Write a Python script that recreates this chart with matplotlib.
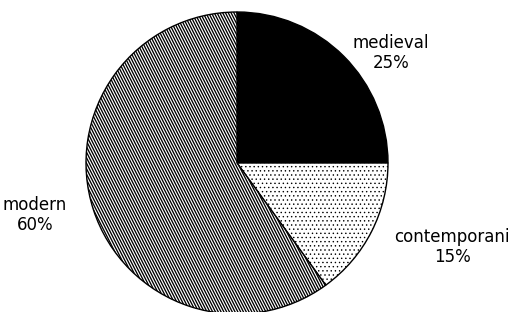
import numpy as np
import matplotlib
matplotlib.use("Agg")
import matplotlib.pyplot as plt
from matplotlib.collections import LineCollection

labels = ["medieval", "contemporani", "modern"]
shares = [25, 15, 60]

W, H = 519, 312
CX, CY, R = 237, 163, 151   # pie centre and radius in pixels


def px(x, y):
    """pixel (from top-left) -> data coords of the axes"""
    return (x - CX) / R, (CY - y) / R


fig = plt.figure(figsize=(W / 100, H / 100), dpi=100)
ax = fig.add_axes([0, 0, 1, 1])

plt.rcParams["hatch.linewidth"] = 0.5
wedges, _ = ax.pie(shares, startangle=90, counterclock=False, radius=1,
                   colors=["black", "white", "white"],
                   wedgeprops=dict(edgecolor="black", linewidth=1.0))
ax.set_xlim(-CX / R, (W - CX) / R)
ax.set_ylim(-(H - CY) / R, CY / R)
ax.set_aspect("equal")
ax.axis("off")

# stipple for contemporani
wedges[1].set_hatch("....")

# steep diagonal lines for modern
step = 2.8 / R
slope = np.tan(np.radians(63))
segs = []
for c in np.arange(-3, 3, step):
    xs = np.array([c - 1.5, c + 1.5])
    segs.append(np.column_stack([xs, -slope * (xs - c)]))
lc = LineCollection(segs, colors="black", linewidths=0.95)
ax.add_collection(lc)
lc.set_clip_path(wedges[2])

txt = dict(ha="center", va="center", fontsize=12, family="DejaVu Sans",
           linespacing=1.15, color="black")
pos = {"medieval": (391, 53), "contemporani": (452, 247), "modern": (35, 215)}
for name, s in zip(labels, shares):
    ax.text(*px(*pos[name]), f"{name}\n{s}%", **txt)

fig.savefig("out.png", dpi=100, facecolor="white")
